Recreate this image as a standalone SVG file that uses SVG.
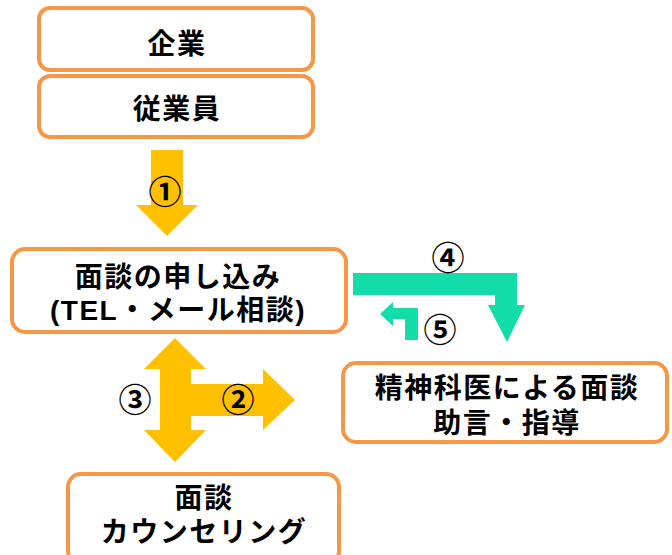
<svg xmlns="http://www.w3.org/2000/svg" width="672" height="555" viewBox="0 0 672 555">
<style>
.box{fill:#fff;stroke:#F79646;stroke-width:4}
.t{font-family:"Liberation Sans","Noto Sans CJK JP",sans-serif;font-weight:bold;font-size:28px;letter-spacing:1.5px;fill:#000;text-anchor:middle}
.n{font-family:"Noto Sans CJK JP","Noto Sans",sans-serif;font-weight:bold;font-size:33px;fill:#000;text-anchor:middle}
.y{fill:#FFC000}
.g{fill:#12DCA8}
</style>
<rect width="672" height="555" fill="#fff"/>
<g id="connectors">
<polygon class="y" points="151,150 183,150 183,205 198,205 167,236 136,205 151,205"/>
<polygon class="y" points="175,338 206,369 191,369 191,384 263,384 263,369 295,400 263,430 263,416 191,416 191,430 206,430 175,462 144,430 160,430 160,369 144,369"/>
<polygon class="g" points="353,273 517,273 517,305 525,305 507,342 488,305 495,305 495,295 353,295"/>
<polygon class="g" points="418,340 405,340 405,319 393,319 393,326 380,314 393,302 393,308 418,308"/>
<text class="n" x="165" y="204">①</text>
<text class="n" x="238" y="412">②</text>
<text class="n" x="135" y="412">③</text>
<text class="n" x="448" y="270">④</text>
<text class="n" x="440" y="342">⑤</text>
</g>
<g id="kigyo">
<rect class="box" x="39" y="8" width="274" height="62" rx="11"/>
<text class="t" x="177" y="54">企業</text>
</g>
<g id="jugyoin">
<rect class="box" x="39" y="76" width="274" height="61" rx="11"/>
<text class="t" x="177" y="119">従業員</text>
</g>
<g id="moushikomi">
<rect class="box" x="12" y="249" width="334" height="83" rx="13"/>
<text class="t" x="178" y="287">面談の申し込み</text>
<text class="t" x="178" y="320">(TEL・メール相談)</text>
</g>
<g id="seishinkai">
<rect class="box" x="343" y="363" width="324" height="79" rx="13"/>
<text class="t" x="507" y="398">精神科医による面談</text>
<text class="t" x="507" y="433">助言・指導</text>
</g>
<g id="mendan">
<rect class="box" x="68" y="474" width="271" height="90" rx="13"/>
<text class="t" x="204" y="508">面談</text>
<text class="t" x="204" y="542">カウンセリング</text>
</g>
</svg>
